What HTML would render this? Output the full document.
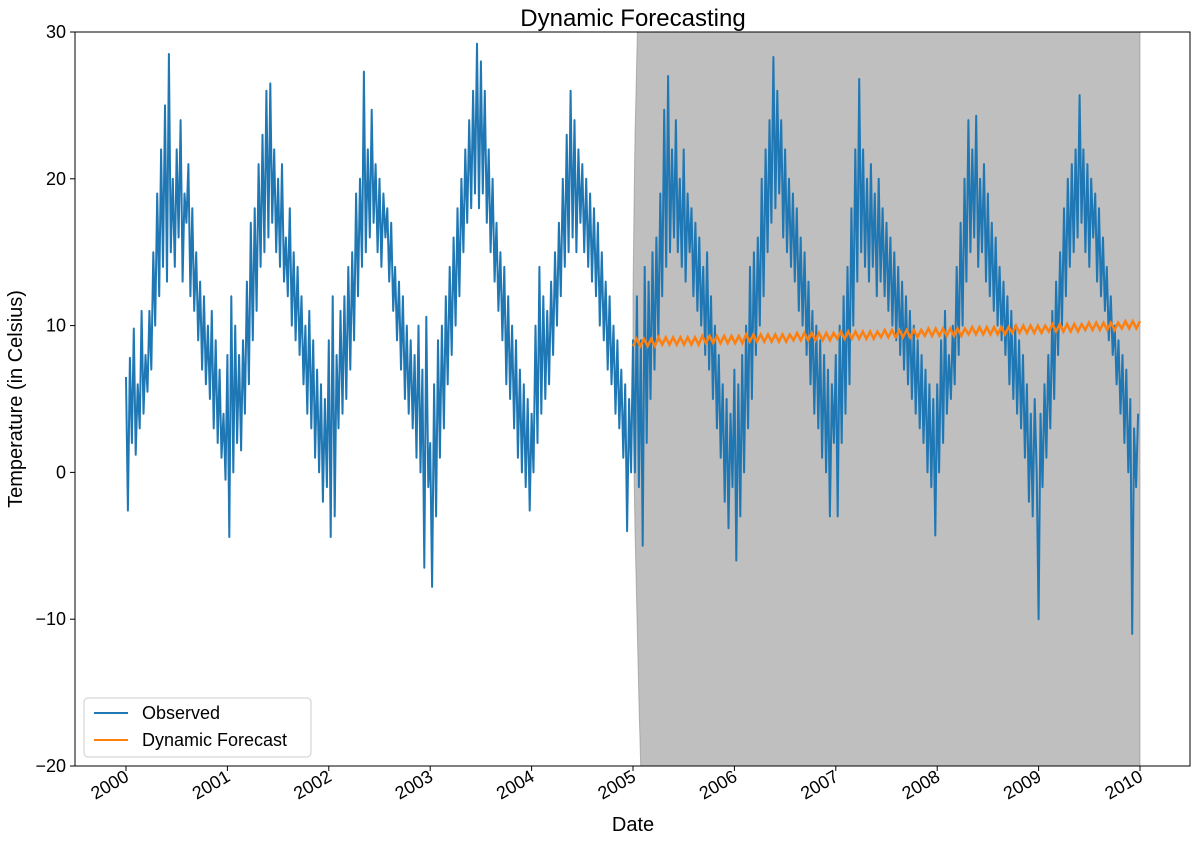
<!DOCTYPE html>
<html><head><meta charset="utf-8"><style>
html,body{margin:0;background:#fff;overflow:hidden;width:1198px;height:842px;}
svg{display:block;font-family:"Liberation Sans","DejaVu Sans",sans-serif;}
</style></head><body>
<svg id="chart" width="1198" height="842">
<defs><clipPath id="plotclip"><rect x="75" y="32" width="1115" height="734"/></clipPath></defs>
<text x="633" y="26" text-anchor="middle" font-size="24">Dynamic Forecasting</text>
<g id="ci" clip-path="url(#plotclip)"></g>
<g id="obs" clip-path="url(#plotclip)"></g>
<g id="fc" clip-path="url(#plotclip)"></g>
<g id="axes"></g>
<text x="633" y="831" text-anchor="middle" font-size="20">Date</text>
<text transform="translate(22,399) rotate(-90)" text-anchor="middle" font-size="20">Temperature (in Celsius)</text>
<g>
<rect x="84" y="698" width="227" height="59" rx="4" fill="#fff" fill-opacity="0.8" stroke="#ccc"/>
<line x1="94" y1="713" x2="128" y2="713" stroke="#1f77b4" stroke-width="2"/>
<text x="142" y="719" font-size="18">Observed</text>
<line x1="94" y1="740" x2="128" y2="740" stroke="#ff7f0e" stroke-width="2"/>
<text x="142" y="746" font-size="18">Dynamic Forecast</text>
</g>
</svg>
<script>
const observedStart = 2000.0;
const observedStep = 1/52;
const observed = [
6.5,-2.6,7.8,2,9.8,1.2,6,3,11,4,8,5.5,11,7,15,10,19,12,22,14,25,13,28.5,15,20,14,22,16,24,13,19,17,21,12,18,11,15,9,13,7,12,6,10,5,11,3,9,2,7,1,4,-0.5,
8,-4.4,12,0,10,2,8,1.5,9,4,13,6,17,9,18,11,21,14,23,15,26,16,26.5,17,22,15,20,14,21,13,16,12,18,10,15,9,14,8,12,6,10,4,11,3,9,1,7,0,6,-2,5,-1,
9,-4.4,12,-3,8,3,11,4,12,5,14,7,15,9,19,12,20,14,27.3,15,22,16,24.7,17,21,15,20,14,19,16,18,13,17,11,14,9,13,7,12,5,10,4,9,3,8,1,10,0,7,-6.5,10.6,-1,
2,-7.8,6,-3,9,1,10,3,12,6,14,8,16,10,18,12,20,15,22,17,24,18,26,19,29.2,18,28,19,26,17,22,15,20,13,17,11,15,9,14,6,12,5,10,3,9,1,7,0,6,-1,5,-2.6,
4,0,10,2,14,4,12,5,11,6,13,8,15,10,17,12,20,14,23,15,26,16,24,15,22,17,21,15,20,14,19,13,18,12,17,10,15,9,13,7,12,6,10,4,9,3,7,1,6,-4,5,0,
9,0,12,-1,9,-5,14,2,13,5,15,7,16,9,19,12,24.7,14,27,15,22,16,24,15,20,14,22,13,19,15,18,12,17,11,16,10,14,8,15,7,12,5,10,3,8,1,6,-2,5,-3.8,4,-1,
7,-6,6,-3,8,0,10,3,14,5,15,8,16,10,20,12,22,15,24,17,28.3,18,26,19,24,16,22,15,20,14,19,13,18,11,16,10,15,8,13,6,11,4,10,3,9,1,8,0,7,-3,6,2,
8,-3,10,2,12,4,14,6,18,10,22,13,26.8,15,22,14,20,13,21,14,19,12,20,13,18,12,17,11,16,10,15,9,14,8,13,7,12,6,11,5,10,4,9,3,8,2,7,0,6,-1,5,-4.3,
6,0,9,2,11,4,8,5,10,6,14,8,17,10,20,13,24,15,22,16,24.3,14,20,15,21,13,19,12,17,11,16,10,14,9,13,8,12,6,11,5,10,4,9,3,8,1,6,-2,4,-3,5,0,
-10,4,-1,6,1,8,3,11,5,13,8,15,10,18,12,20,14,21,15,22,16,25.7,17,22,15,21,14,20,16,19,13,18,12,16,11,14,9,12,8,10,6,9,4,8,2,7,0,5,-11,3,-1,4
];
const forecastStart = 2005.0;
const forecastEnd = 2010.0;
const forecast = [
8.6,9.1,8.6,9.1,8.6,9.1,8.6,9.2,8.7,9.2,8.7,9.2,8.7,9.2,8.7,9.2,8.7,9.2,8.7,9.3,
8.8,9.3,8.8,9.3,8.8,9.3,8.8,9.3,8.8,9.3,8.8,9.4,8.9,9.4,8.9,9.4,8.9,9.4,8.9,9.4,
8.9,9.4,8.9,9.4,9.0,9.5,9.0,9.5,9.0,9.5,9.0,9.5,9.0,9.5,9.0,9.5,9.1,9.6,9.1,9.6,
9.1,9.6,9.1,9.6,9.1,9.6,9.1,9.6,9.2,9.7,9.2,9.7,9.2,9.7,9.2,9.7,9.2,9.7,9.2,9.7,
9.3,9.8,9.3,9.8,9.3,9.8,9.3,9.8,9.3,9.8,9.3,9.8,9.4,9.9,9.4,9.9,9.4,9.9,9.4,9.9,
9.4,9.9,9.4,9.9,9.5,10.0,9.5,10.0,9.5,10.0,9.5,10.0,9.5,10.0,9.6,10.1,9.6,10.1,9.6,10.1,
9.6,10.1,9.6,10.1,9.7,10.2,9.7,10.2,9.7,10.2,9.7,10.2,9.7,10.2,9.8,10.3,9.8,10.3,9.8,10.3
];
const ciDates = [2005.0, 2005.01, 2005.02, 2005.04, 2005.06, 2005.08, 2005.2, 2010.0];
const ciLower = [5, 0, -4, -10, -16, -21, -60, -200];
const ciUpper = [12, 18, 23, 29, 35, 40, 80, 200];
const yTicks = [-20,-10,0,10,20,30];
const xTicks = [2000,2001,2002,2003,2004,2005,2006,2007,2008,2009,2010];

const X0=75,X1=1190,Y0=32,Y1=766;
const xs = d => 126 + (d-2000)*101.4;
const ys = v => Y1 - (v+20)/50*(Y1-Y0);
const NS="http://www.w3.org/2000/svg";
function mk(tag, attrs, parent){const e=document.createElementNS(NS,tag);for(const k in attrs)e.setAttribute(k,attrs[k]);parent.appendChild(e);return e;}

let pts=[];
for(let i=0;i<ciDates.length;i++)pts.push(xs(ciDates[i])+","+ys(ciUpper[i]));
for(let i=ciDates.length-1;i>=0;i--)pts.push(xs(ciDates[i])+","+ys(ciLower[i]));
const band=mk("polygon",{points:pts.join(" "),fill:"#808080","fill-opacity":"0.5",stroke:"#808080","stroke-opacity":"0.5"},document.getElementById("ci"));



let d="";
observed.forEach((v,i)=>{d+=(i?"L":"M")+xs(observedStart+i*observedStep).toFixed(1)+","+ys(v).toFixed(1);});
const ol=mk("path",{d:d,fill:"none",stroke:"#1f77b4","stroke-width":"2","stroke-linejoin":"round"},document.getElementById("obs"));



const fStep=(forecastEnd-forecastStart)/(forecast.length-1);
d="";
forecast.forEach((v,i)=>{d+=(i?"L":"M")+xs(forecastStart+i*fStep).toFixed(1)+","+ys(v).toFixed(1);});
const fl=mk("path",{d:d,fill:"none",stroke:"#ff7f0e","stroke-width":"2.5"},document.getElementById("fc"));



const ax=document.getElementById("axes");
const frame=mk("rect",{x:X0,y:Y0,width:X1-X0,height:Y1-Y0,fill:"none",stroke:"#000","stroke-width":"1"},ax);


yTicks.forEach(t=>{
  const y=ys(t);
  mk("line",{x1:X0-5,y1:y,x2:X0,y2:y,stroke:"#000"},ax);
  const tx=mk("text",{x:X0-9,y:y+6,"text-anchor":"end","font-size":"18"},ax);
  tx.textContent=t<0?"\u2212"+Math.abs(t):t;
  
  
});
xTicks.forEach(t=>{
  const x=xs(t);
  mk("line",{x1:x,y1:Y1,x2:x,y2:Y1+5,stroke:"#000"},ax);
  const tx=mk("text",{transform:`translate(${x+4},${Y1+14}) rotate(-30)`,"text-anchor":"end","font-size":"18"},ax);
  tx.textContent=t;
  
  
});
</script>
</body></html>
